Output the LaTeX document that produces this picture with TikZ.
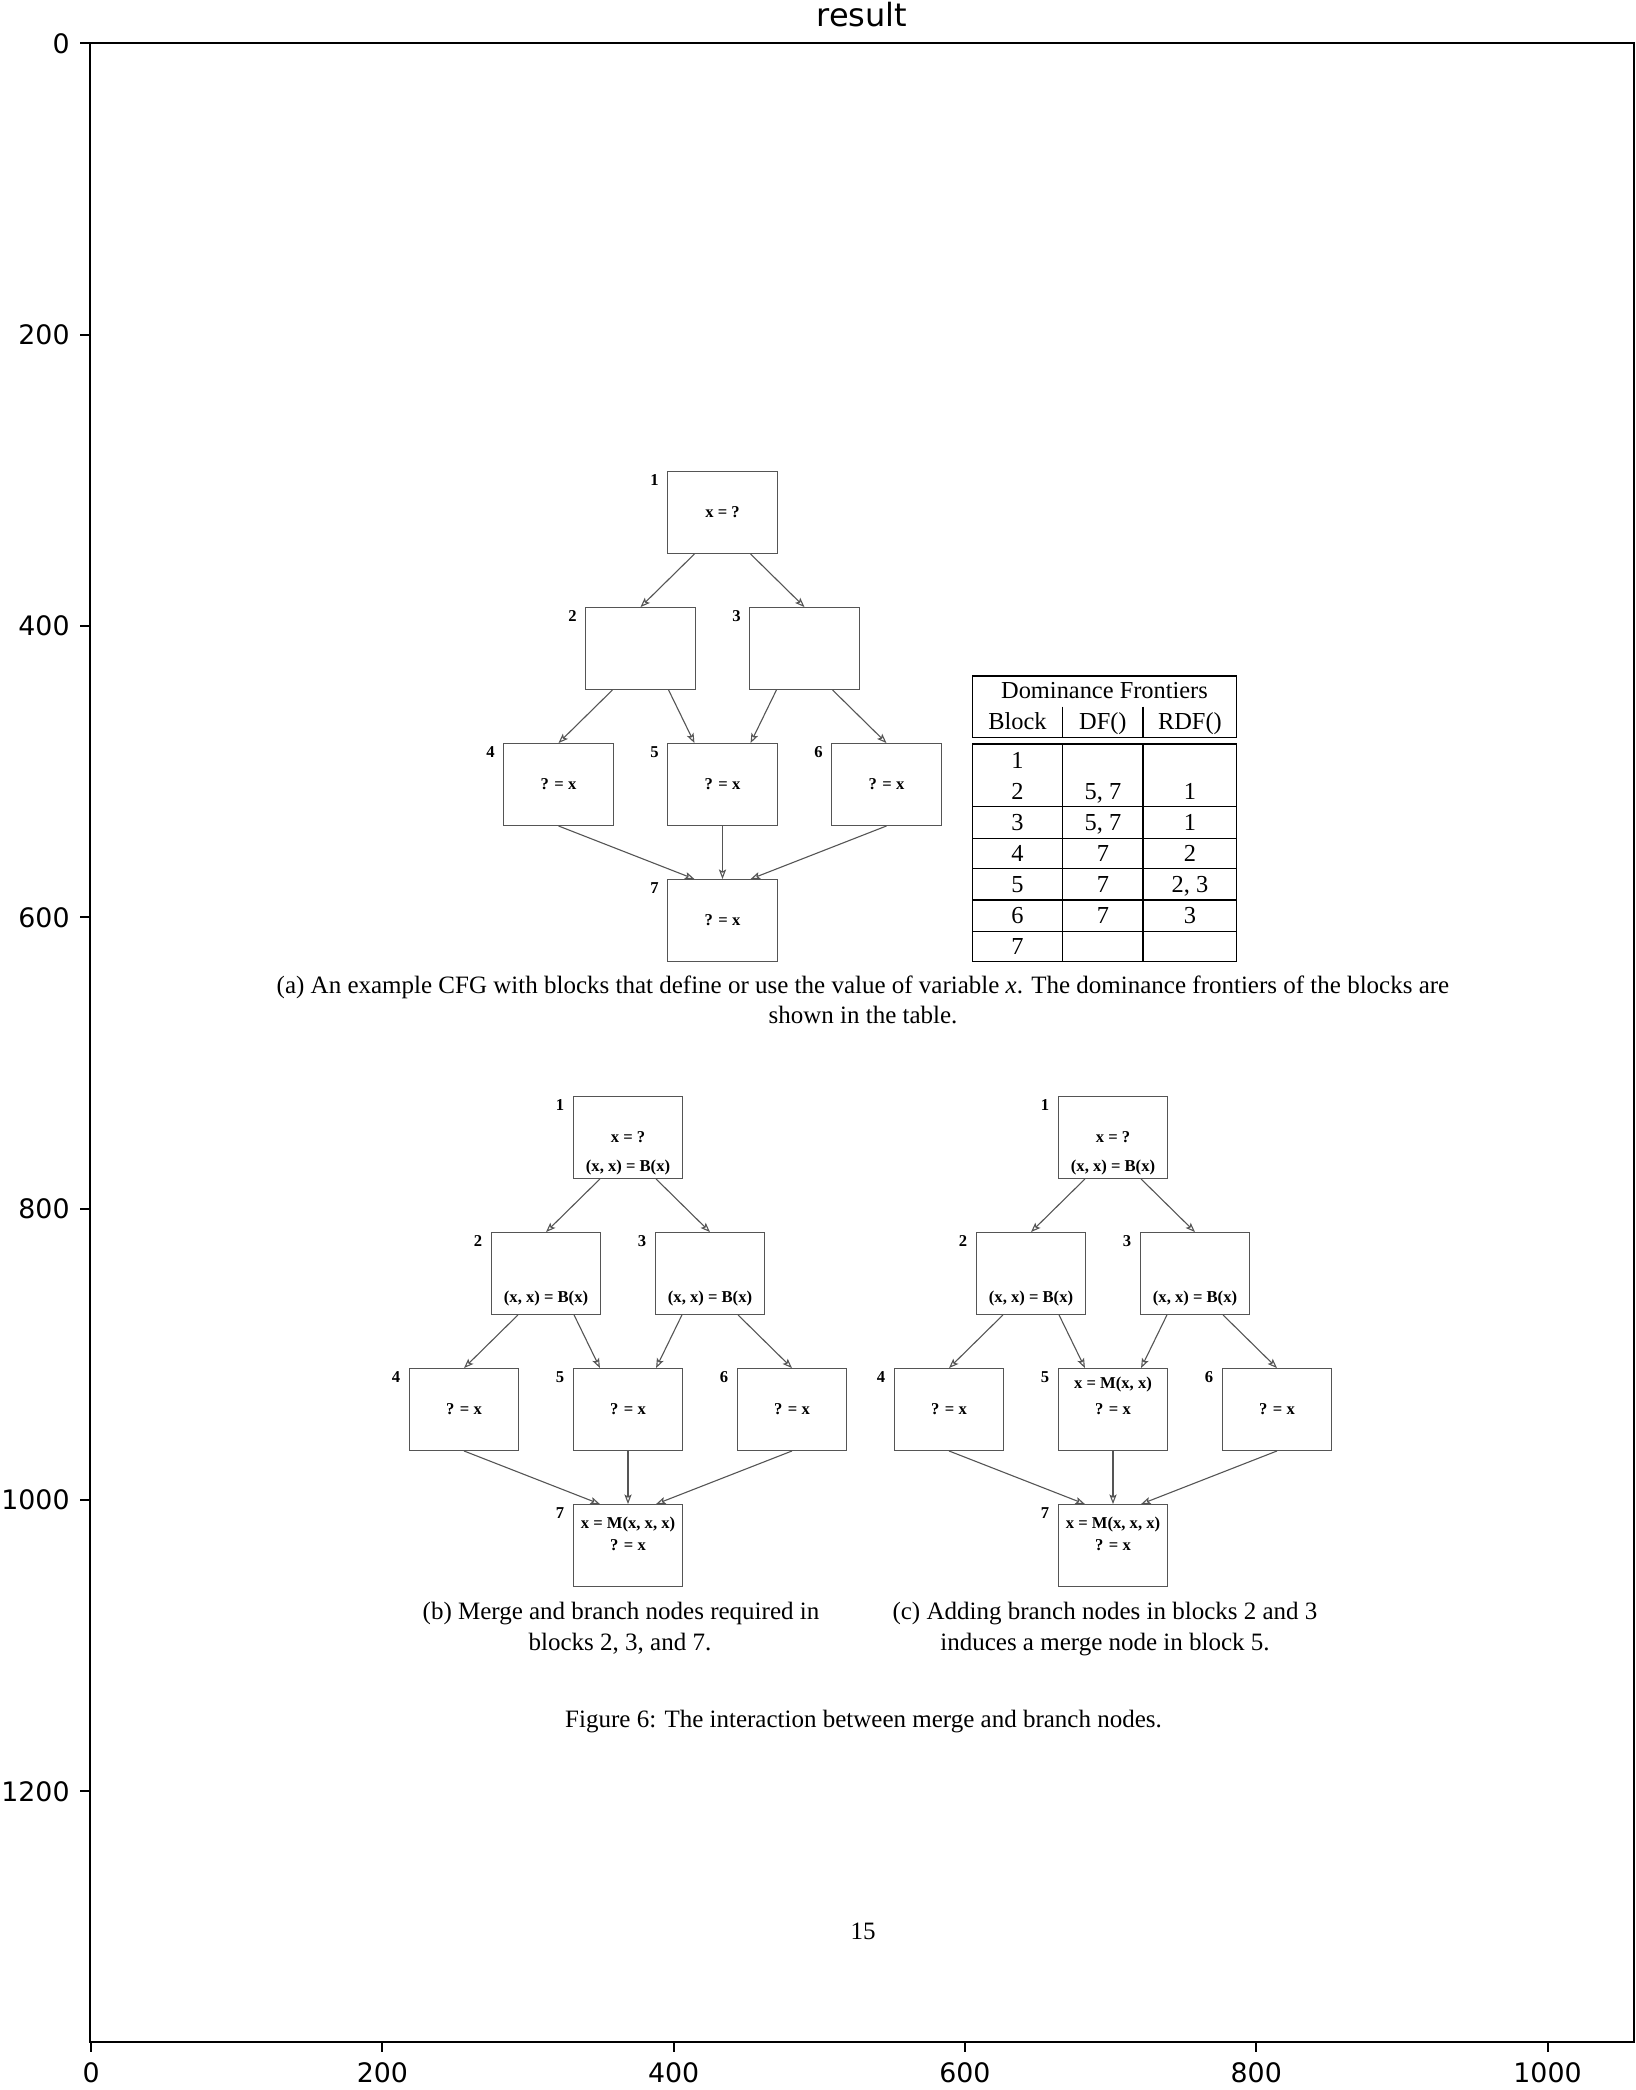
\documentclass[tikz,border=0pt]{standalone}
\usepackage{fontspec}
\setmainfont{Liberation Serif}
\newfontfamily\mplfont{DejaVu Sans}
\usetikzlibrary{arrows.meta,calc}
\definecolor{boxgray}{RGB}{85,85,85}

\newcommand\cfgpanel[3]{%
  \node[blk] (#1n1) at (#2,#3) {x = ?};
  \node[blk] (#1n2) at ({#2-82},{#3+136}) {};
  \node[blk] (#1n3) at ({#2+82},{#3+136}) {};
  \node[blk] (#1n4) at ({#2-164},{#3+272}) {? = x};
  \node[blk] (#1n5) at (#2,{#3+272}) {? = x};
  \node[blk] (#1n6) at ({#2+164},{#3+272}) {? = x};
  \node[blk] (#1n7) at (#2,{#3+408}) {? = x};
  \foreach \k in {1,...,7}{
    \node[numlab] (#1l\k) at ([shift={(-12.5,9)}]#1n\k.north west) {\k};
  }
  \draw[cfgarrow] ([xshift=13.7pt]#1n1.south west) -- (#1n2.north);
  \draw[cfgarrow] ([xshift=-13.7pt]#1n1.south east) -- (#1n3.north);
  \draw[cfgarrow] ([xshift=13.7pt]#1n2.south west) -- (#1n4.north);
  \draw[cfgarrow] ([xshift=-13.7pt]#1n2.south east) -- ([xshift=13.7pt]#1n5.north west);
  \draw[cfgarrow] ([xshift=13.7pt]#1n3.south west) -- ([xshift=-13.7pt]#1n5.north east);
  \draw[cfgarrow] ([xshift=-13.7pt]#1n3.south east) -- (#1n6.north);
  \draw[cfgarrow] (#1n4.south) -- ([xshift=13.7pt]#1n7.north west);
  \draw[cfgarrow] (#1n5.south) -- (#1n7.north);
  \draw[cfgarrow] (#1n6.south) -- ([xshift=-13.7pt]#1n7.north east);
}

\begin{document}
\begin{tikzpicture}[x=0.5pt,y=-0.5pt,
  blk/.style={draw=boxgray, line width=0.7pt, minimum width=54.75pt, minimum height=40.75pt,
    inner sep=0pt, font=\fontsize{8.3}{10}\selectfont\bfseries},
  boxtext/.style={inner sep=0pt, font=\fontsize{8.3}{10}\selectfont\bfseries},
  numlab/.style={inner sep=0pt, font=\fontsize{8.3}{10}\selectfont\bfseries},
  cfgarrow/.style={draw=boxgray, line width=0.55pt, -{Stealth[open,length=4.8pt,width=3.6pt,inset=1pt]}},
  tabline/.style={draw=black, line width=0.7pt},
  tabtext/.style={inner sep=0pt, anchor=base, font=\fontsize{12.2}{14}\selectfont},
  captext/.style={inner sep=0pt, anchor=base, font=\fontsize{12.5}{15}\selectfont},
  mplline/.style={draw=black, line width=1pt},
  mpllab/.style={inner sep=0pt, font=\mplfont\fontsize{13.4}{16}\selectfont}
]
\useasboundingbox (0,0) rectangle (1635,2090);
\fill[white] (0,0) rectangle (1635,2090);

% ---------- matplotlib frame ----------
\node[anchor=base, inner sep=0pt, font=\mplfont\fontsize{16}{19}\selectfont] (title) at (862,26.7) {result};
\draw[mplline] (89.7,42.7) rectangle (1634,2042.3);
\foreach \v in {0,200,...,1000}{
  \draw[mplline] ({90.3+1.4565*(\v+0.5)},2042.3) -- ++(0,9.7);
  \node[mpllab] (xt\v) at ({90.3+1.4565*(\v+0.5)},2073) {\v};
}
\foreach \v in {0,200,...,1200}{
  \draw[mplline] (89.7,{42.7+1.4565*(\v+0.5)}) -- ++(-9.7,0);
  \node[mpllab, anchor=east] (yt\v) at (70,{42.7+1.4565*(\v+0.5)}) {\v};
}

% ---------- panel (a) ----------
\cfgpanel{a}{722.5}{512.5}

% dominance frontier table
\draw[tabline] (972.3,676) rectangle (1236.7,737.3);
\draw[tabline] (1062.7,706.7) -- (1062.7,737.3);
\draw[tabline] (1143,706.7) -- (1143,737.3);
\draw[tabline] (972.3,744) rectangle (1236.7,961.7);
\draw[tabline] (1062.7,744) -- (1062.7,961.7);
\draw[tabline] (1143,744) -- (1143,961.7);
\foreach \r in {806.7,838.3,868.3,900,931.7}{
  \draw[tabline] (972.3,\r) -- (1236.7,\r);
}
\node[tabtext] (thead) at (1104.5,698) {Dominance Frontiers};
\node[tabtext] (tblock) at (1017.5,729.5) {Block};
\node[tabtext] (tdf) at (1102.9,729.5) {DF()};
\node[tabtext] (trdf) at (1189.9,729.5) {RDF()};
\node[tabtext] (tb1) at (1017.5,768) {1};
\node[tabtext] (tb2) at (1017.5,799) {2};
\node[tabtext] (td2) at (1102.9,799) {5, 7};
\node[tabtext] (tr2) at (1189.9,799) {1};
\node[tabtext] (tb3) at (1017.5,830.5) {3};
\node[tabtext] (td3) at (1102.9,830.5) {5, 7};
\node[tabtext] (tr3) at (1189.9,830.5) {1};
\node[tabtext] (tb4) at (1017.5,861) {4};
\node[tabtext] (td4) at (1102.9,861) {7};
\node[tabtext] (tr4) at (1189.9,861) {2};
\node[tabtext] (tb5) at (1017.5,892) {5};
\node[tabtext] (td5) at (1102.9,892) {7};
\node[tabtext] (tr5) at (1189.9,892) {2, 3};
\node[tabtext] (tb6) at (1017.5,923.5) {6};
\node[tabtext] (td6) at (1102.9,923.5) {7};
\node[tabtext] (tr6) at (1189.9,923.5) {3};
\node[tabtext] (tb7) at (1017.5,954) {7};

\node[captext] (capa1) at (863,993) {(a) An example CFG with blocks that define or use the value of variable \textit{x}. The dominance frontiers of the blocks are};
\node[captext] (capa2) at (863,1023) {shown in the table.};

% ---------- panel (b) ----------
\cfgpanel{b}{628}{1137.5}
\node[boxtext] (bx1) at (628,1167.3) {(x, x) = B(x)};
\node[boxtext] (bx2) at (546,1298) {(x, x) = B(x)};
\node[boxtext] (bx3) at (710,1298) {(x, x) = B(x)};
\node[boxtext] (bx7) at (628,1524.5) {x = M(x, x, x)};

% ---------- panel (c) ----------
\cfgpanel{c}{1113}{1137.5}
\node[boxtext] (cx1) at (1113,1167.3) {(x, x) = B(x)};
\node[boxtext] (cx2) at (1031,1298) {(x, x) = B(x)};
\node[boxtext] (cx3) at (1195,1298) {(x, x) = B(x)};
\node[boxtext] (cx5) at (1113,1384.5) {x = M(x, x)};
\node[boxtext] (cx7) at (1113,1524.5) {x = M(x, x, x)};

\node[captext] (capb1) at (621,1619.5) {(b) Merge and branch nodes required in};
\node[captext] (capb2) at (620,1650) {blocks 2, 3, and 7.};
\node[captext] (capc1) at (1105,1619.5) {(c) Adding branch nodes in blocks 2 and 3};
\node[captext] (capc2) at (1105,1650) {induces a merge node in block 5.};
\node[captext] (figcap) at (863.5,1727) {Figure 6: The interaction between merge and branch nodes.};
\node[captext] (pagenum) at (863,1939) {15};
\end{tikzpicture}
\end{document}
